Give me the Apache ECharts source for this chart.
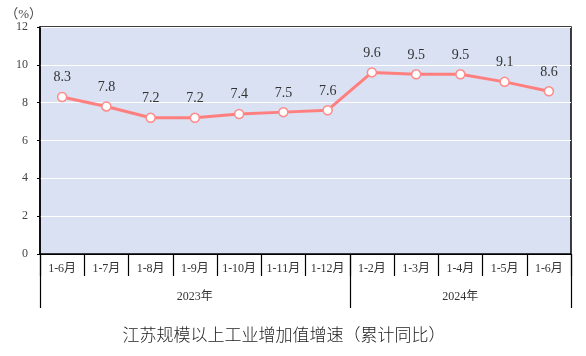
<!DOCTYPE html>
<html>
<head>
<meta charset="utf-8">
<script src="https://cdn.jsdelivr.net/npm/echarts@6/dist/echarts.min.js"></script>
<style>html,body{margin:0;padding:0;background:#fff}#c{width:586px;height:356px}</style>
</head>
<body>
<div id="c"></div>
<script>
const months = ['1-6月','1-7月','1-8月','1-9月','1-10月','1-11月','1-12月','1-2月','1-3月','1-4月','1-5月','1-6月'];
const values = [8.3, 7.8, 7.2, 7.2, 7.4, 7.5, 7.6, 9.6, 9.5, 9.5, 9.1, 8.6];
const years = ['2023年', '2024年'];
const yearSpans = [7, 5];
const yTicks = [0, 2, 4, 6, 8, 10, 12];
const titleText = '江苏规模以上工业增加值增速（累计同比）';

const yearCats = [];
const yearStarts = [];
let idx = 0;
years.forEach((y, i) => {
  yearStarts.push(idx);
  for (let k = 0; k < yearSpans[i]; k++) {
    yearCats.push(k === Math.floor((yearSpans[i] - 1) / 2) ? y : '');
  }
  idx += yearSpans[i];
});

const serif = '"Liberation Serif", "Noto Sans CJK SC", serif';
const chart = echarts.init(document.getElementById('c'), null, {renderer: 'canvas'});
chart.setOption({
  animation: false,
  title: {
    text: titleText,
    left: 279, top: 321, textAlign: 'center',
    textStyle: {fontFamily: '"Noto Sans CJK SC", sans-serif', fontSize: 17, fontWeight: 300, color: '#222'}
  },
  grid: {
    left: 40, right: 15, top: 27, bottom: 102,
    show: true, backgroundColor: '#D9E1F2', borderColor: '#000', borderWidth: 1.5
  },
  xAxis: [{
    type: 'category', data: months, boundaryGap: true, position: 'bottom',
    axisLine: {show: true, lineStyle: {color: '#000', width: 1}},
    axisTick: {show: true, length: 22, lineStyle: {color: '#000', width: 1.2}},
    axisLabel: {margin: 9, fontSize: 12, color: '#333', fontFamily: serif, interval: 0}
  }, {
    type: 'category', data: yearCats, boundaryGap: true, position: 'bottom',
    axisLine: {show: false},
    axisTick: {show: true, length: 54, interval: (i) => yearStarts.indexOf(i) >= 0,
      lineStyle: {color: '#000', width: 1.2}},
    axisLabel: {margin: 37, fontSize: 12, color: '#333', fontFamily: serif, interval: 0}
  }],
  yAxis: {
    type: 'value', min: yTicks[0], max: yTicks[yTicks.length - 1], interval: 2,
    name: '（%）', nameLocation: 'end', nameGap: -3,
    nameTextStyle: {fontSize: 13, color: '#444', fontFamily: serif, align: 'right', padding: [0, -2, 0, 0]},
    axisLine: {show: true, lineStyle: {color: '#000', width: 1.5}},
    axisTick: {show: true, length: 3, lineStyle: {color: '#000'}},
    axisLabel: {fontSize: 12, color: '#444', fontFamily: serif, margin: 12},
    splitLine: {show: true, lineStyle: {color: '#fff', width: 1.2}}
  },
  series: [{
    type: 'line', data: values, xAxisIndex: 0,
    lineStyle: {color: '#FF7F7F', width: 3},
    symbol: 'circle', symbolSize: 9,
    itemStyle: {color: '#fff', borderColor: '#FF8A8A', borderWidth: 1.5},
    label: {show: true, position: 'top', distance: 7, fontSize: 14, color: '#333', fontFamily: serif},
    z: 5
  }]
});
</script>
</body>
</html>
